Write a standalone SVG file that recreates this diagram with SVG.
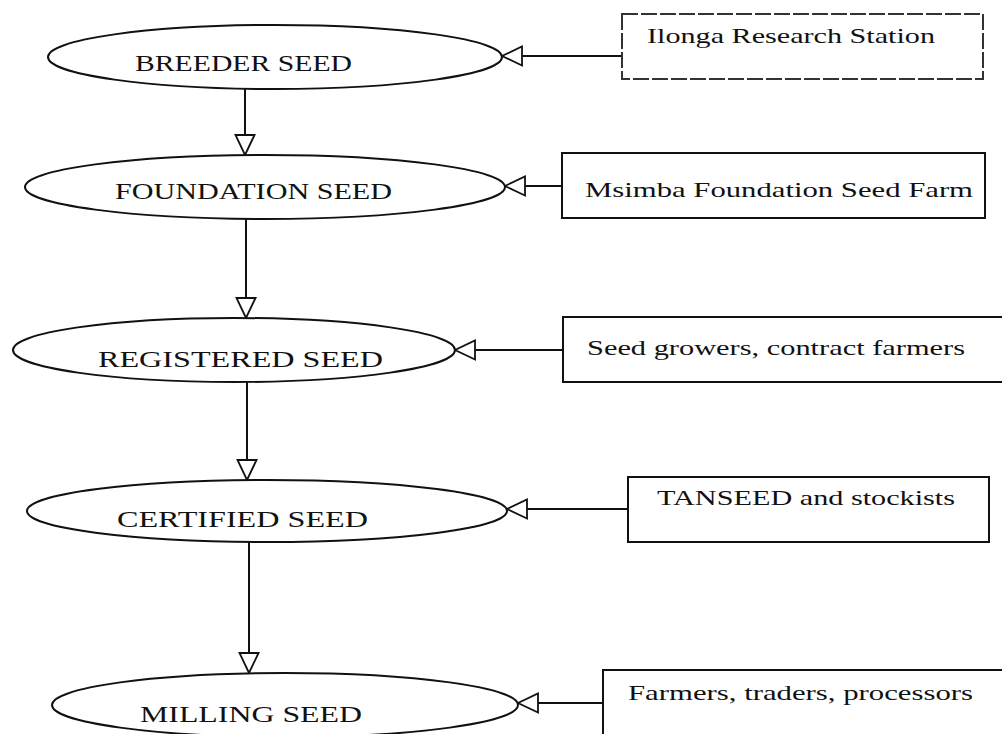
<svg xmlns="http://www.w3.org/2000/svg" width="1002" height="734" viewBox="0 0 1002 734">
  <defs>
    <style>
      .stage { fill: #ffffff; stroke: #111111; stroke-width: 2; }
      .source { fill: #ffffff; stroke: #111111; stroke-width: 2; }
      .source.dashed { stroke: #333333; stroke-dasharray: 16 3; }
      .stage-label { font-family: "Liberation Serif", "Times New Roman", serif; font-size: 23px; fill: #111111; }
      .source-label { font-family: "Liberation Serif", "Times New Roman", serif; font-size: 22px; fill: #111111; }
      .link { fill: none; stroke: #111111; stroke-width: 2; marker-end: url(#open-arrow); }
    </style>
    <!-- hollow triangular arrowhead -->
    <marker id="open-arrow" viewBox="0 0 22 22" refX="21" refY="11" markerWidth="22" markerHeight="22" markerUnits="userSpaceOnUse" orient="auto">
      <path d="M1,1.5 L21,11 L1,20.5 Z" fill="#ffffff" stroke="#111111" stroke-width="1.8" stroke-linejoin="miter"/>
    </marker>
  </defs>

  <rect width="1002" height="734" fill="#ffffff"/>

  <!-- connectors -->
  <g id="connectors">
    <!-- seed class progression -->
    <line class="link" x1="245" y1="89" x2="245" y2="155"/>
    <line class="link" x1="246" y1="219" x2="246" y2="318"/>
    <line class="link" x1="247" y1="382" x2="247" y2="480"/>
    <line class="link" x1="249" y1="542" x2="249" y2="673"/>
    <!-- producers feeding each class -->
    <line class="link" x1="622" y1="56" x2="502" y2="56"/>
    <line class="link" x1="562" y1="186" x2="505" y2="186"/>
    <line class="link" x1="563" y1="350" x2="455" y2="350"/>
    <line class="link" x1="628" y1="509" x2="507" y2="509"/>
    <line class="link" x1="603" y1="703" x2="518" y2="703"/>
  </g>

  <!-- seed classes -->
  <g id="breeder-seed">
    <ellipse class="stage" cx="275" cy="57" rx="227" ry="32"/>
    <text class="stage-label" x="135" y="71" textLength="217" lengthAdjust="spacingAndGlyphs">BREEDER SEED</text>
  </g>
  <g id="foundation-seed">
    <ellipse class="stage" cx="265" cy="187" rx="240" ry="32"/>
    <text class="stage-label" x="115" y="199" textLength="277" lengthAdjust="spacingAndGlyphs">FOUNDATION SEED</text>
  </g>
  <g id="registered-seed">
    <ellipse class="stage" cx="234" cy="350" rx="221" ry="32"/>
    <text class="stage-label" x="98" y="367" textLength="285" lengthAdjust="spacingAndGlyphs">REGISTERED SEED</text>
  </g>
  <g id="certified-seed">
    <ellipse class="stage" cx="267" cy="511" rx="240" ry="31"/>
    <text class="stage-label" x="117" y="527" textLength="251" lengthAdjust="spacingAndGlyphs">CERTIFIED SEED</text>
  </g>
  <g id="milling-seed">
    <ellipse class="stage" cx="285" cy="705" rx="233" ry="32"/>
    <text class="stage-label" x="140" y="722" textLength="222" lengthAdjust="spacingAndGlyphs">MILLING SEED</text>
  </g>

  <!-- producers -->
  <g id="ilonga">
    <rect class="source dashed" x="622" y="14" width="361" height="65"/>
    <text class="source-label" x="647" y="43" textLength="288" lengthAdjust="spacingAndGlyphs">Ilonga Research Station</text>
  </g>
  <g id="msimba">
    <rect class="source" x="562" y="153" width="423" height="65"/>
    <text class="source-label" x="585" y="197" textLength="388" lengthAdjust="spacingAndGlyphs">Msimba Foundation Seed Farm</text>
  </g>
  <g id="seed-growers">
    <rect class="source" x="563" y="317" width="445" height="65"/>
    <text class="source-label" x="587" y="355" textLength="378" lengthAdjust="spacingAndGlyphs">Seed growers, contract farmers</text>
  </g>
  <g id="tanseed">
    <rect class="source" x="628" y="477" width="361" height="65"/>
    <text class="source-label" x="657" y="505" textLength="298" lengthAdjust="spacingAndGlyphs">TANSEED and stockists</text>
  </g>
  <g id="farmers">
    <rect class="source" x="603" y="670" width="405" height="70"/>
    <text class="source-label" x="628" y="700" textLength="345" lengthAdjust="spacingAndGlyphs">Farmers, traders, processors</text>
  </g>
</svg>
